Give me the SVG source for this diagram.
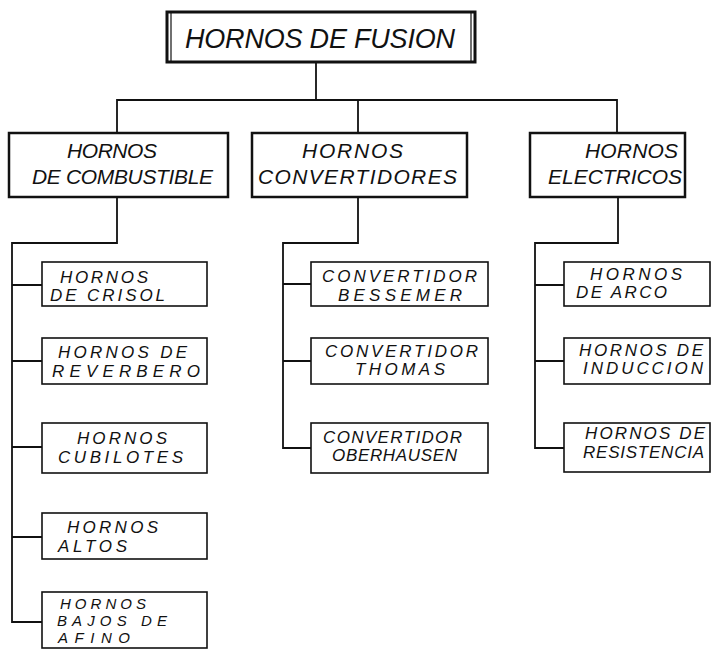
<svg xmlns="http://www.w3.org/2000/svg" width="719" height="655" viewBox="0 0 719 655">
<style>
  .bg { fill: #ffffff; }
  .box0 { fill: #ffffff; stroke: #111; stroke-width: 3; }
  .box1 { fill: #ffffff; stroke: #111; stroke-width: 2.5; }
  .box2 { fill: #ffffff; stroke: #111; stroke-width: 1.6; }
  .conn { fill: none; stroke: #111; stroke-width: 1.8; stroke-linejoin: miter; }
  text { font-family: "Liberation Sans", Arial, sans-serif; font-style: italic; fill: #111; }
  .t0 { font-size: 27px; }
  .t1 { font-size: 21px; }
  .t2 { font-size: 17px; }
  .t3 { font-size: 15px; }
</style>
<rect class="bg" x="0" y="0" width="719" height="655"/>

<g id="connectors">
  <path class="conn" d="M316 62 V100"/>
  <path class="conn" d="M117 133 V100 H617 V133"/>
  <path class="conn" d="M358 100 V133"/>
  <path class="conn" d="M117 197 V243 H12 V622 H42"/>
  <path class="conn" d="M12 285 H42 M12 361 H42 M12 447 H42 M12 537 H42"/>
  <path class="conn" d="M358 197 V243 H283 V448 H311"/>
  <path class="conn" d="M283 284 H311 M283 361 H311"/>
  <path class="conn" d="M618 197 V243 H535 V448 H564"/>
  <path class="conn" d="M535 285 H564 M535 361 H564"/>
</g>

<g id="hornos-de-fusion">
  <rect class="box0" x="167" y="12" width="308" height="50"/>
  <line x1="171" y1="13" x2="171" y2="61" stroke="#111" stroke-width="1.2"/>
  <line x1="471" y1="13" x2="471" y2="61" stroke="#111" stroke-width="1.2"/>
  <text class="t0" x="185" y="48" textLength="270" lengthAdjust="spacing">HORNOS DE FUSION</text>
</g>

<g id="hornos-de-combustible">
  <rect class="box1" x="9" y="133" width="219" height="64"/>
  <text class="t1" x="67" y="158" textLength="90" lengthAdjust="spacing">HORNOS</text>
  <text class="t1" x="32" y="184" textLength="181" lengthAdjust="spacing">DE COMBUSTIBLE</text>
</g>

<g id="hornos-convertidores">
  <rect class="box1" x="252" y="133" width="215" height="64"/>
  <text class="t1" x="302" y="158" textLength="101" lengthAdjust="spacing">HORNOS</text>
  <text class="t1" x="258" y="184" textLength="199" lengthAdjust="spacing">CONVERTIDORES</text>
</g>

<g id="hornos-electricos">
  <rect class="box1" x="530" y="133" width="155" height="64"/>
  <text class="t1" x="585" y="158" textLength="93" lengthAdjust="spacing">HORNOS</text>
  <text class="t1" x="548" y="184" textLength="134" lengthAdjust="spacing">ELECTRICOS</text>
</g>

<g id="hornos-de-crisol">
  <rect class="box2" x="42" y="262" width="165" height="44"/>
  <text class="t2" x="60" y="283" textLength="88" lengthAdjust="spacing">HORNOS</text>
  <text class="t2" x="50" y="301" textLength="115" lengthAdjust="spacing">DE CRISOL</text>
</g>
<g id="hornos-de-reverbero">
  <rect class="box2" x="42" y="338" width="165" height="46"/>
  <text class="t2" x="58" y="358" textLength="129" lengthAdjust="spacing">HORNOS DE</text>
  <text class="t2" x="52" y="377" textLength="148" lengthAdjust="spacing">REVERBERO</text>
</g>
<g id="hornos-cubilotes">
  <rect class="box2" x="42" y="423" width="165" height="50"/>
  <text class="t2" x="77" y="444" textLength="90" lengthAdjust="spacing">HORNOS</text>
  <text class="t2" x="58" y="463" textLength="125" lengthAdjust="spacing">CUBILOTES</text>
</g>
<g id="hornos-altos">
  <rect class="box2" x="42" y="513" width="165" height="46"/>
  <text class="t2" x="67" y="533" textLength="91" lengthAdjust="spacing">HORNOS</text>
  <text class="t2" x="58" y="552" textLength="69" lengthAdjust="spacing">ALTOS</text>
</g>
<g id="hornos-bajos-de-afino">
  <rect class="box2" x="42" y="592" width="165" height="56"/>
  <text class="t3" x="60" y="609" textLength="86" lengthAdjust="spacing">HORNOS</text>
  <text class="t3" x="57" y="626" textLength="110" lengthAdjust="spacing">BAJOS DE</text>
  <text class="t3" x="58" y="643" textLength="72" lengthAdjust="spacing">AFINO</text>
</g>

<g id="convertidor-bessemer">
  <rect class="box2" x="311" y="262" width="177" height="44"/>
  <text class="t2" x="322" y="282" textLength="155" lengthAdjust="spacing">CONVERTIDOR</text>
  <text class="t2" x="338" y="301" textLength="124" lengthAdjust="spacing">BESSEMER</text>
</g>
<g id="convertidor-thomas">
  <rect class="box2" x="311" y="338" width="177" height="46"/>
  <text class="t2" x="325" y="357" textLength="153" lengthAdjust="spacing">CONVERTIDOR</text>
  <text class="t2" x="355" y="375" textLength="90" lengthAdjust="spacing">THOMAS</text>
</g>
<g id="convertidor-oberhausen">
  <rect class="box2" x="311" y="423" width="177" height="50"/>
  <text class="t2" x="323" y="443" textLength="139" lengthAdjust="spacing">CONVERTIDOR</text>
  <text class="t2" x="332" y="461" textLength="125" lengthAdjust="spacing">OBERHAUSEN</text>
</g>

<g id="hornos-de-arco">
  <rect class="box2" x="564" y="262" width="146" height="44"/>
  <text class="t2" x="590" y="280" textLength="92" lengthAdjust="spacing">HORNOS</text>
  <text class="t2" x="576" y="298" textLength="91" lengthAdjust="spacing">DE ARCO</text>
</g>
<g id="hornos-de-induccion">
  <rect class="box2" x="564" y="338" width="146" height="46"/>
  <text class="t2" x="579" y="356" textLength="124" lengthAdjust="spacing">HORNOS DE</text>
  <text class="t2" x="583" y="374" textLength="120" lengthAdjust="spacing">INDUCCION</text>
</g>
<g id="hornos-de-resistencia">
  <rect class="box2" x="564" y="423" width="146" height="49"/>
  <text class="t2" x="585" y="439" textLength="120" lengthAdjust="spacing">HORNOS DE</text>
  <text class="t2" x="583" y="458" textLength="121" lengthAdjust="spacing">RESISTENCIA</text>
</g>
</svg>
